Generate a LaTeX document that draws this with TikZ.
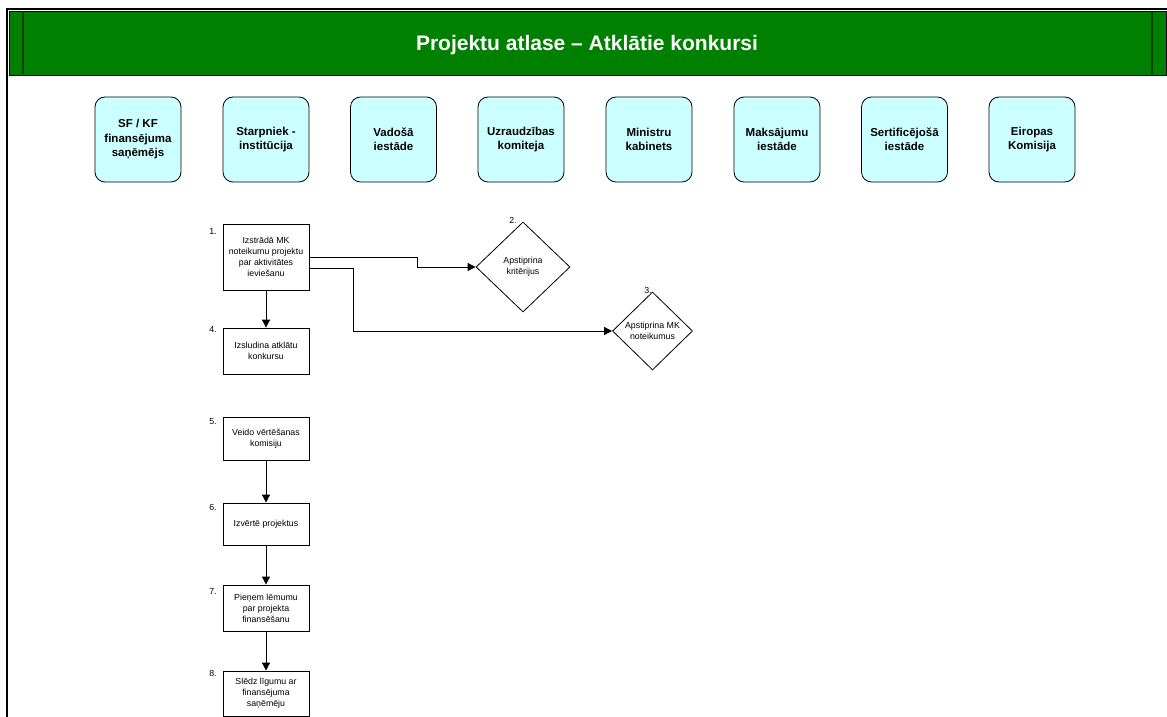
\documentclass[tikz,border=0pt]{standalone}
\usepackage{fontspec}
\setmainfont{Liberation Sans}
\usetikzlibrary{arrows.meta,shapes.geometric,calc}
\definecolor{hdrgreen}{HTML}{008000}
\definecolor{hdrline}{HTML}{004000}
\definecolor{actorfill}{HTML}{CCFFFF}
\begin{document}
\begin{tikzpicture}[x=1pt,y=-1pt,
  actor/.style={draw=black,line width=0.8pt,fill=actorfill,rounded corners=10pt,minimum width=86pt,minimum height=85pt,align=center,font=\fontsize{11.5}{14.5}\selectfont\bfseries,inner sep=2pt},
  procbox/.style={draw=black,line width=0.8pt,minimum width=86pt,align=center,font=\fontsize{8.8}{11}\selectfont,inner sep=1pt},
  decide/.style={draw=black,line width=0.8pt,diamond,inner sep=0pt,align=center,font=\fontsize{8.8}{11}\selectfont},
  numlbl/.style={font=\fontsize{8.8}{10}\selectfont,inner sep=0pt},
  arr/.style={draw=black,line width=0.8pt,-{Triangle[width=8pt,length=8pt]}}
]
\useasboundingbox (0,0) rectangle (1167,717);
% frame
\draw[line width=2pt] (7,717) -- (7,9) -- (1167,9);
% title band
\node[draw=black,line width=0.8pt,fill=hdrgreen,minimum width=1157pt,minimum height=64pt,inner sep=0pt,anchor=north west] (band) at (9,11) {};
\draw[hdrline,line width=2pt] (23,11.5) -- (23,74.5);
\draw[hdrline,line width=2pt] (1152,11.5) -- (1152,74.5);
\node[text=white,font=\fontsize{21}{24}\selectfont\bfseries] (title) at (587,45) {Projektu atlase – Atklātie konkursi};
% actors
\node[actor] (a1) at (138,139.5) {SF / KF\\finansējuma\\saņēmējs};
\node[actor] (a2) at (266,139.5) {Starpniek -\\institūcija};
\node[actor] (a3) at (393.5,139.5) {Vadošā\\iestāde};
\node[actor] (a4) at (521,139.5) {Uzraudzības\\komiteja};
\node[actor] (a5) at (649,139.5) {Ministru\\kabinets};
\node[actor] (a6) at (777,139.5) {Maksājumu\\iestāde};
\node[actor] (a7) at (904.5,139.5) {Sertificējošā\\iestāde};
\node[actor] (a8) at (1032,139.5) {Eiropas\\Komisija};
% process
\node[procbox,minimum height=66pt] (b1) at (266,257) {Izstrādā MK\\noteikumu projektu\\par aktivitātes\\ieviešanu};
\node[procbox,minimum height=46pt] (b4) at (266,351) {Izsludina atklātu\\konkursu};
\node[procbox,minimum height=43pt] (b5) at (266,438.5) {Veido vērtēšanas\\komisiju};
\node[procbox,minimum height=42pt] (b6) at (266,524) {Izvērtē projektus};
\node[procbox,minimum height=46pt] (b7) at (266,608) {Pieņem lēmumu\\par projekta\\finansēšanu};
\node[procbox,minimum height=45pt] (b8) at (266,693.5) {Slēdz līgumu ar\\finansējuma\\saņēmēju};
\node[decide,minimum width=94pt,minimum height=90pt] (d2) at (523,267) {Apstiprina\\kritērijus};
\node[decide,minimum width=80pt,minimum height=78pt] (d3) at (652.5,331) {Apstiprina MK\\noteikumus};
% numbers
\node[numlbl] (n1) at (213,231) {1.};
\node[numlbl] (n2) at (513,220) {2.};
\node[numlbl] (n3) at (648,290) {3.};
\node[numlbl] (n4) at (213,329) {4.};
\node[numlbl] (n5) at (213,422) {5.};
\node[numlbl] (n6) at (213,507) {6.};
\node[numlbl] (n7) at (213,591) {7.};
\node[numlbl] (n8) at (213,673) {8.};
% connectors
\draw[arr] (b1.east) -- ++(108,0) |- (d2.west);
\draw[arr] ([yshift=-11pt]b1.east) -- ++(44,0) |- (d3.west);
\draw[arr] (b1.south) -- (b4.north);
\draw[arr] (b5.south) -- (b6.north);
\draw[arr] (b6.south) -- (b7.north);
\draw[arr] (b7.south) -- (b8.north);
\end{tikzpicture}
\end{document}
